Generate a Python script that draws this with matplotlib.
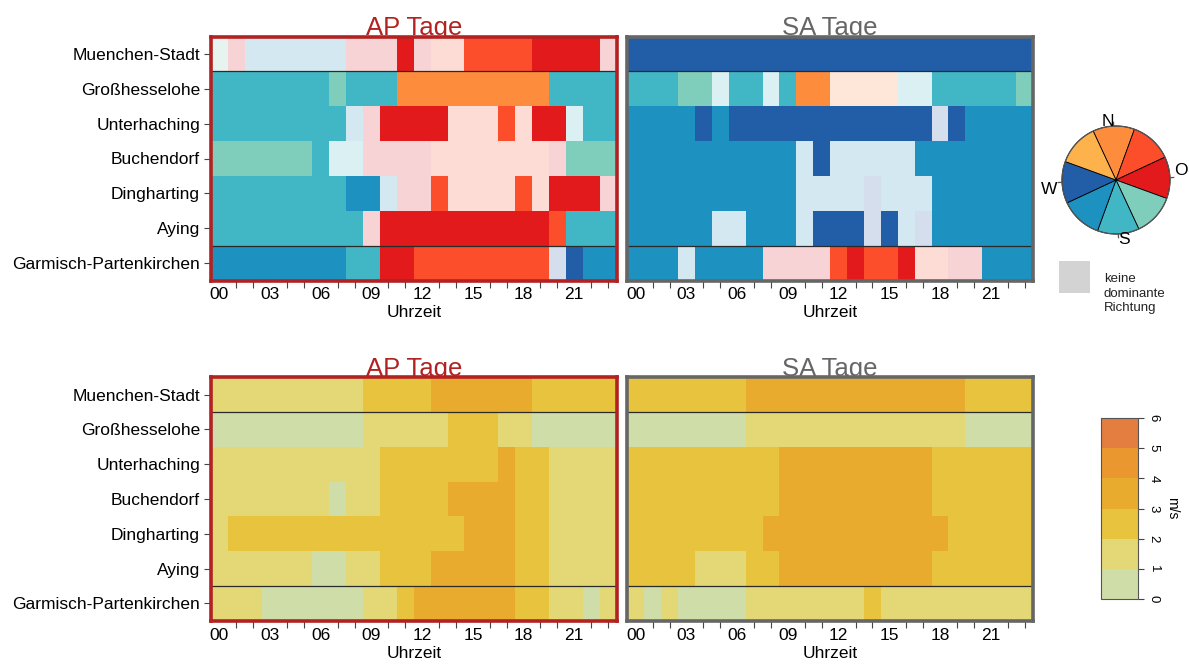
import numpy as np
import matplotlib
matplotlib.use("Agg")
import matplotlib.pyplot as plt
from matplotlib.colors import ListedColormap, BoundaryNorm
from matplotlib.patches import Wedge, Circle, Rectangle

plt.rcParams['font.family'] = ['Liberation Sans', 'DejaVu Sans']

# ---- data ----
stations = ["Muenchen-Stadt", "Großhesselohe", "Unterhaching", "Buchendorf",
            "Dingharting", "Aying", "Garmisch-Partenkirchen"]
hours = list(range(24))
hour_labels = ["00", "03", "06", "09", "12", "15", "18", "21"]

# dominant wind direction per hour (capital = dominant sector, l* = weak / light shade)
dir_codes = ["R", "OR", "O", "Y", "DB", "B", "T", "G",
             "lr", "lp", "lo", "lb", "lt", "lg", "ldb"]
dir_colors = ["#E31A1C", "#FC4E2A", "#FD8D3C", "#FEB24C", "#225EA8", "#1D91C0",
              "#41B6C4", "#7FCDBB",
              "#F8D3D5", "#FDDCD6", "#FEE6D8", "#D3E8F0", "#DBF0F3", "#E6F3EF", "#D4DEEC"]

ap_direction = [
    "lg lr lb lb lb lb lb lb lr lr lr R lr lp lp OR OR OR OR R R R R lr".split(),
    "T T T T T T T G T T T O O O O O O O O O T T T T".split(),
    "T T T T T T T T lb lr R R R R lp lp lp OR lp R R lt T T".split(),
    "G G G G G G T lt lt lr lr lr lr lp lp lp lp lp lp lp lr G G G".split(),
    "T T T T T T T T B B lb lr lr OR lp lp lp lp OR lp R R R lr".split(),
    "T T T T T T T T T lr R R R R R R R R R R OR T T T".split(),
    "B B B B B B B B T T R R OR OR OR OR OR OR OR OR ldb DB B B".split(),
]
sa_direction = [
    "DB DB DB DB DB DB DB DB DB DB DB DB DB DB DB DB DB DB DB DB DB DB DB DB".split(),
    "T T T G G lt T T lt T O O lo lo lo lo lt lt T T T T T G".split(),
    "B B B B DB B DB DB DB DB DB DB DB DB DB DB DB DB ldb DB B B B B".split(),
    "B B B B B B B B B B lb DB lb lb lb lb lb B B B B B B B".split(),
    "B B B B B B B B B B lb lb lb lb ldb lb lb lb B B B B B B".split(),
    "B B B B B lb lb B B B lb DB DB DB ldb DB lb ldb B B B B B B".split(),
    "B B B lb B B B B lr lr lr lr OR R OR OR R lp lp lr lr B B B".split(),
]

# wind speed class per hour (0: 0-1 m/s, 1: 1-2, 2: 2-3, 3: 3-4 ...)
ap_speed = [
    [1, 1, 1, 1, 1, 1, 1, 1, 1, 2, 2, 2, 2, 3, 3, 3, 3, 3, 3, 2, 2, 2, 2, 2],
    [0, 0, 0, 0, 0, 0, 0, 0, 0, 1, 1, 1, 1, 1, 2, 2, 2, 1, 1, 0, 0, 0, 0, 0],
    [1, 1, 1, 1, 1, 1, 1, 1, 1, 1, 2, 2, 2, 2, 2, 2, 2, 3, 2, 2, 1, 1, 1, 1],
    [1, 1, 1, 1, 1, 1, 1, 0, 1, 1, 2, 2, 2, 2, 3, 3, 3, 3, 2, 2, 1, 1, 1, 1],
    [1, 2, 2, 2, 2, 2, 2, 2, 2, 2, 2, 2, 2, 2, 2, 3, 3, 3, 2, 2, 1, 1, 1, 1],
    [1, 1, 1, 1, 1, 1, 0, 0, 1, 1, 2, 2, 2, 3, 3, 3, 3, 3, 2, 2, 1, 1, 1, 1],
    [1, 1, 1, 0, 0, 0, 0, 0, 0, 1, 1, 2, 3, 3, 3, 3, 3, 3, 2, 2, 1, 1, 0, 1],
]
sa_speed = [
    [2, 2, 2, 2, 2, 2, 2, 3, 3, 3, 3, 3, 3, 3, 3, 3, 3, 3, 3, 3, 2, 2, 2, 2],
    [0, 0, 0, 0, 0, 0, 0, 1, 1, 1, 1, 1, 1, 1, 1, 1, 1, 1, 1, 1, 0, 0, 0, 0],
    [2, 2, 2, 2, 2, 2, 2, 2, 2, 3, 3, 3, 3, 3, 3, 3, 3, 3, 2, 2, 2, 2, 2, 2],
    [2, 2, 2, 2, 2, 2, 2, 2, 2, 3, 3, 3, 3, 3, 3, 3, 3, 3, 2, 2, 2, 2, 2, 2],
    [2, 2, 2, 2, 2, 2, 2, 2, 3, 3, 3, 3, 3, 3, 3, 3, 3, 3, 3, 2, 2, 2, 2, 2],
    [2, 2, 2, 2, 1, 1, 1, 2, 2, 3, 3, 3, 3, 3, 3, 3, 3, 3, 2, 2, 2, 2, 2, 2],
    [1, 0, 1, 0, 0, 0, 0, 1, 1, 1, 1, 1, 1, 1, 2, 1, 1, 1, 1, 1, 1, 1, 1, 1],
]
speed_bounds = [0, 1, 2, 3, 4, 5, 6]
speed_colors = ["#CFDDA8", "#E4D775", "#E7C33E", "#E9AB2E", "#E9972E", "#E47E40"]

compass_sectors = ["N", "NO", "O", "SO", "S", "SW", "W", "NW"]
compass_colors = ["#FD8D3C", "#FC4E2A", "#E31A1C", "#7FCDBB",
                  "#41B6C4", "#1D91C0", "#225EA8", "#FEB24C"]

# ---- figure ----
W, H = 1189, 664
fig = plt.figure(figsize=(W / 100, H / 100), dpi=100)


def px_axes(x0, y0, x1, y1):
    return fig.add_axes([x0 / W, 1 - y1 / H, (x1 - x0) / W, (y1 - y0) / H])


RED = "#B22222"
GREY = "#666666"
dir_cmap = ListedColormap(dir_colors)
dir_norm = BoundaryNorm(np.arange(len(dir_codes) + 1) - 0.5, len(dir_codes))
spd_cmap = ListedColormap(speed_colors)
spd_norm = BoundaryNorm(speed_bounds, len(speed_colors))


def heat(ax, grid, cmap, norm, edge, ylabels):
    ax.pcolormesh(np.arange(25), np.arange(8), grid, cmap=cmap, norm=norm)
    ax.set_xlim(0, 24)
    ax.set_ylim(7, 0)
    for yl in (1, 6):
        ax.axhline(yl, color="#2a2a2a", lw=0.9)
    for s in ax.spines.values():
        s.set_color(edge)
        s.set_linewidth(2.6)
    ax.set_xticks(np.arange(0, 24, 3) + 0.5)
    ax.set_xticklabels(hour_labels, fontsize=12.5)
    ax.set_xticks([h + 0.5 for h in hours if h % 3], minor=True)
    ax.tick_params(axis="x", which="major", length=0, pad=5)
    ax.tick_params(axis="x", which="minor", length=5, width=0.8, color="#444444")
    ax.set_xlabel("Uhrzeit", fontsize=12.5, labelpad=2)
    ax.set_yticks(np.arange(7) + 0.5)
    if ylabels:
        ax.set_yticklabels(stations, fontsize=12.5)
        ax.tick_params(axis="y", length=5, width=0.8, color="#444444", pad=3)
    else:
        ax.set_yticklabels([])
        ax.tick_params(axis="y", length=0)


ap_dir_idx = [[dir_codes.index(c) for c in row] for row in ap_direction]
sa_dir_idx = [[dir_codes.index(c) for c in row] for row in sa_direction]

panels = [
    ((211, 36.5, 616.5, 280.5), ap_dir_idx, dir_cmap, dir_norm, RED, True, "AP Tage"),
    ((627.3, 36.5, 1033, 280.5), sa_dir_idx, dir_cmap, dir_norm, GREY, False, "SA Tage"),
    ((211, 377.3, 616.5, 620.8), ap_speed, spd_cmap, spd_norm, RED, True, "AP Tage"),
    ((627.3, 377.3, 1033, 620.8), sa_speed, spd_cmap, spd_norm, GREY, False, "SA Tage"),
]
for (x0, y0, x1, y1), grid, cmap, norm, edge, ylab, title in panels:
    ax = px_axes(x0, y0, x1, y1)
    heat(ax, np.array(grid), cmap, norm, edge, ylab)
    fig.text((x0 + x1) / 2 / W, 1 - (y0 - 1) / H, title, color=edge,
             fontsize=18.5, ha="center", va="baseline", zorder=-1)

# ---- compass legend ----
cx, cy, r = 1116, 180, 54
lim = 1.6
cax = px_axes(cx - r * lim, cy - r * lim, cx + r * lim, cy + r * lim)
cax.set_xlim(-lim, lim)
cax.set_ylim(-lim, lim)
cax.set_aspect("equal")
cax.axis("off")
rot = 2.5
for i, (name, col) in enumerate(zip(compass_sectors, compass_colors)):
    mid = 90 - 45 * i + rot
    cax.add_patch(Wedge((0, 0), 1, mid - 22.5, mid + 22.5, facecolor=col,
                        edgecolor="black", lw=0.6))
cax.add_patch(Circle((0, 0), 1, fill=False, edgecolor="#555555", lw=0.9))
lab_rot = 8
for name, ang, rad in [("N", 90, 1.09), ("O", 0, 1.22), ("S", 270, 1.12), ("W", 180, 1.26)]:
    a = np.deg2rad(ang + lab_rot)
    t = np.deg2rad(ang + rot)
    cax.plot([np.cos(t), 1.07 * np.cos(t)], [np.sin(t), 1.07 * np.sin(t)],
             color="#555555", lw=0.9)
    cax.text(rad * np.cos(a), rad * np.sin(a), name, fontsize=12.5,
             ha="center", va="center")

fig.add_artist(Rectangle((1059 / W, 1 - 293 / H), 31 / W, 32 / H,
                         transform=fig.transFigure, facecolor="#D3D3D3",
                         edgecolor="none"))
fig.text(1104 / W, 1 - 273 / H, "keine\ndominante\nRichtung", fontsize=9.5,
         ha="left", va="top", linespacing=1.3, color="#222222")

# ---- speed colorbar ----
sax = px_axes(1101, 418, 1138, 599)
sm = plt.cm.ScalarMappable(cmap=spd_cmap, norm=spd_norm)
cb = fig.colorbar(sm, cax=sax, ticks=speed_bounds)
cb.outline.set_edgecolor("#555555")
cb.outline.set_linewidth(0.8)
sax.tick_params(length=4, width=0.8, color="#444444", labelsize=9.5, pad=3)
for t in sax.get_yticklabels():
    t.set_rotation(270)
    t.set_va("center")
    t.set_ha("left")
cb.set_label("m/s", fontsize=10, rotation=270, labelpad=9, va="center")

fig.savefig("out.png", dpi=100)
